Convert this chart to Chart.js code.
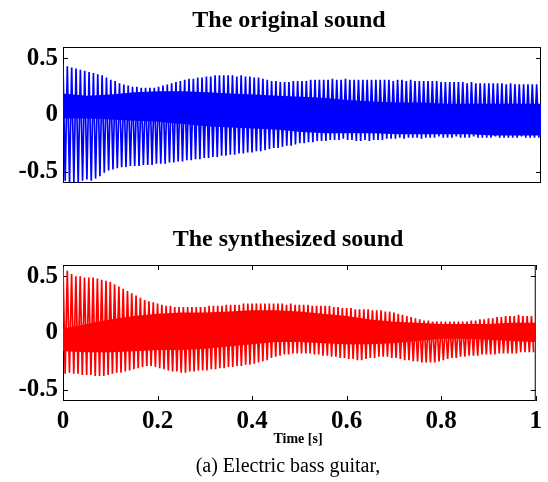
<!DOCTYPE html>
<html>
<head>
<meta charset="utf-8">
<script src="https://cdn.jsdelivr.net/npm/chart.js@4/dist/chart.umd.min.js"></script>
<style>
  html, body { margin: 0; padding: 0; background: #fff; }
  #wrap { position: relative; width: 548px; height: 482px; overflow: hidden; font-family: "Liberation Serif", "Times New Roman", serif; }
  #wrap canvas { position: absolute; left: 0; top: 0; }
  .txt { position: absolute; white-space: nowrap; transform: translateX(-50%); color: #000; }
  .ttl { font-size: 24px; line-height: 24px; font-weight: bold; }
  .axt { font-size: 14px; line-height: 14px; font-weight: bold; }
  .cap { font-size: 20px; line-height: 20px; }
</style>
</head>
<body>
<div id="wrap">
  <canvas id="orig" width="548" height="482"></canvas>
  <canvas id="synth" width="548" height="482"></canvas>
  <div class="txt ttl" style="left:289px; top:7px;">The original sound</div>
  <div class="txt ttl" style="left:288px; top:226px;">The synthesized sound</div>
  <div class="txt axt" style="left:298px; top:432px;">Time [s]</div>
  <div class="txt cap" style="left:288px; top:455px;">(a) Electric bass guitar,</div>
</div>
<script>
// Fundamental of the note: one peak and one trough per period
const F0 = 110;

// Per-period maxima / minima of the recorded waveform
const originalPeaks = [
  0.45, 0.43, 0.42, 0.41, 0.40, 0.39, 0.38, 0.37, 0.36,
  0.35, 0.33, 0.31, 0.30, 0.28, 0.27, 0.26,
  0.25, 0.25, 0.24, 0.24, 0.24, 0.24, 0.25,
  0.26, 0.27, 0.28, 0.29, 0.30, 0.31, 0.32, 0.32, 0.33, 0.33, 0.34,
  0.34, 0.35, 0.35, 0.35, 0.35, 0.35, 0.34, 0.35, 0.34, 0.34, 0.33, 0.33, 0.32,
  0.31, 0.30, 0.30, 0.29, 0.29, 0.29, 0.30, 0.30, 0.30, 0.30, 0.31, 0.31, 0.31,
  0.31, 0.31, 0.32, 0.31, 0.31, 0.32, 0.31, 0.31, 0.31, 0.31, 0.31, 0.31, 0.31,
  0.31, 0.31, 0.31, 0.30, 0.31, 0.31, 0.30, 0.31, 0.30, 0.30, 0.30, 0.30, 0.30, 0.30, 0.29,
  0.29, 0.29, 0.29, 0.29, 0.29, 0.28, 0.29, 0.28, 0.28, 0.28, 0.28, 0.28, 0.28, 0.28, 0.27, 0.28, 0.27, 0.27, 0.27, 0.27, 0.27, 0.27
];
const originalTroughs = [
  -0.58, -0.60, -0.59, -0.60, -0.58, -0.57, -0.58, -0.56, -0.54,
  -0.51, -0.49, -0.48, -0.47, -0.46, -0.46, -0.45,
  -0.45, -0.45, -0.44, -0.44, -0.44, -0.43, -0.43,
  -0.43, -0.42, -0.42, -0.41, -0.41, -0.40, -0.40, -0.39, -0.39, -0.38, -0.38,
  -0.37, -0.37, -0.36, -0.36, -0.35, -0.35, -0.34, -0.34, -0.33, -0.33, -0.32, -0.32, -0.31,
  -0.30, -0.29, -0.29, -0.28, -0.27, -0.27, -0.26, -0.25, -0.25, -0.24, -0.24, -0.23, -0.23,
  -0.23, -0.22, -0.22, -0.22, -0.21, -0.22, -0.22, -0.23, -0.23, -0.22, -0.23, -0.22, -0.22,
  -0.22, -0.21, -0.21, -0.21, -0.20, -0.21, -0.20, -0.20, -0.20, -0.21, -0.20, -0.20, -0.20, -0.19, -0.20,
  -0.20, -0.20, -0.19, -0.20, -0.20, -0.20, -0.19, -0.20, -0.20, -0.20, -0.20, -0.19, -0.20, -0.20, -0.20, -0.20, -0.20, -0.19, -0.20, -0.20, -0.20, -0.20
];

// Per-period maxima / minima of the synthesized waveform
const synthPeaks = [
  0.58, 0.55, 0.52,
  0.50, 0.50, 0.49, 0.49, 0.49, 0.48,
  0.47, 0.46, 0.45,
  0.43, 0.41, 0.39, 0.37, 0.35,
  0.33, 0.31, 0.29, 0.28, 0.27,
  0.26, 0.25, 0.24, 0.24, 0.23, 0.23, 0.23, 0.23, 0.23, 0.23,
  0.23, 0.23, 0.24, 0.24, 0.24, 0.24, 0.25, 0.25, 0.25, 0.25, 0.26, 0.26, 0.26, 0.26, 0.26, 0.26, 0.26, 0.26,
  0.26, 0.26, 0.25, 0.26, 0.25, 0.25, 0.25, 0.25, 0.24, 0.24, 0.24, 0.24, 0.24, 0.23, 0.23,
  0.22, 0.22, 0.22, 0.21, 0.21, 0.21, 0.21, 0.20, 0.20, 0.20, 0.19,
  0.19, 0.18, 0.17, 0.16, 0.15, 0.14, 0.13, 0.12,
  0.11, 0.11, 0.10, 0.10, 0.10, 0.10, 0.10, 0.10, 0.10, 0.10,
  0.10, 0.11, 0.11, 0.12, 0.12, 0.13, 0.13, 0.14, 0.14,
  0.15, 0.15, 0.15, 0.16, 0.15, 0.15, 0.15
];
const synthTroughs = [
  -0.36, -0.35, -0.36, -0.36, -0.37, -0.37, -0.37, -0.38, -0.38,
  -0.38, -0.37, -0.36, -0.35, -0.35, -0.34, -0.33,
  -0.32, -0.31, -0.30, -0.29, -0.29, -0.30, -0.31,
  -0.32, -0.33, -0.34, -0.34, -0.35, -0.35, -0.34, -0.34, -0.33, -0.33, -0.33,
  -0.32, -0.32, -0.31, -0.31, -0.30, -0.30, -0.29, -0.29, -0.28, -0.28, -0.27, -0.26, -0.25,
  -0.24, -0.22, -0.21, -0.20, -0.19, -0.19, -0.18, -0.18, -0.18, -0.18, -0.18, -0.19, -0.19,
  -0.20, -0.20, -0.21, -0.21, -0.22, -0.22, -0.23, -0.23, -0.24, -0.24, -0.23, -0.22, -0.22,
  -0.21, -0.21, -0.21, -0.22, -0.22, -0.23, -0.24, -0.24, -0.25, -0.25, -0.26, -0.26, -0.26, -0.26, -0.25,
  -0.24, -0.23, -0.22, -0.22, -0.21, -0.21, -0.20, -0.20, -0.20, -0.19, -0.19, -0.19, -0.19, -0.18, -0.18, -0.18, -0.18, -0.18, -0.17, -0.17, -0.17, -0.17
];

// Dense inner part of each waveform (upper and lower edge), sampled every 50 ms
const bandTimes = [0, 0.05, 0.1, 0.15, 0.2, 0.25, 0.3, 0.35, 0.4, 0.45, 0.5, 0.55, 0.6, 0.65, 0.7, 0.75, 0.8, 0.85, 0.9, 0.95, 1];
const originalBandTop    = [0.19, 0.17, 0.18, 0.20, 0.21, 0.21, 0.20, 0.19, 0.18, 0.17, 0.16, 0.15, 0.13, 0.12, 0.11, 0.11, 0.10, 0.10, 0.10, 0.10, 0.10];
const originalBandBottom = [-0.03, -0.03, -0.04, -0.05, -0.06, -0.08, -0.10, -0.11, -0.12, -0.13, -0.15, -0.16, -0.16, -0.16, -0.17, -0.17, -0.17, -0.17, -0.18, -0.18, -0.18];
const synthBandTop       = [0.04, 0.08, 0.12, 0.15, 0.17, 0.18, 0.18, 0.19, 0.20, 0.20, 0.19, 0.17, 0.15, 0.12, 0.10, 0.09, 0.08, 0.08, 0.08, 0.09, 0.09];
const synthBandBottom    = [-0.16, -0.17, -0.17, -0.16, -0.15, -0.15, -0.14, -0.12, -0.10, -0.08, -0.08, -0.09, -0.10, -0.10, -0.09, -0.07, -0.05, -0.05, -0.06, -0.07, -0.08];

// Axis ticks
const yTicks = [-0.5, 0, 0.5];
const yTickLabels = ['-0.5', '0', '0.5'];
const xTicks = [0, 0.2, 0.4, 0.6, 0.8, 1];
const xTickLabels = ['0', '0.2', '0.4', '0.6', '0.8', '1'];

const FONT = '"Liberation Serif", "Times New Roman", serif';

function wavePoints(peaks, troughs) {
  const pts = [];
  for (let k = 0; k < peaks.length; k++) {
    pts.push({ x: k / F0, y: peaks[k] });
    pts.push({ x: (k + 0.5) / F0, y: troughs[k] });
  }
  return pts;
}
function bandPoints(values) {
  return bandTimes.map((t, i) => ({ x: t, y: values[i] }));
}

// Box around the axes with short inward tick marks
const boxPlugin = {
  id: 'box',
  beforeDatasetsDraw(chart, args, opts) {
    const { ctx, chartArea: a, scales } = chart;
    ctx.save();
    ctx.strokeStyle = '#000';
    ctx.lineWidth = 1;
    ctx.strokeRect(a.left + 0.5, a.top + 0.5, a.right - a.left - 1, a.bottom - a.top - 1);
    ctx.beginPath();
    yTicks.forEach(v => {
      const y = Math.round(scales.y.getPixelForValue(v)) + 0.5;
      ctx.moveTo(a.left, y); ctx.lineTo(a.left + 5, y);
      ctx.moveTo(a.right - 5, y); ctx.lineTo(a.right, y);
    });
    if (opts.xTicks) {
      xTicks.forEach(v => {
        const x = Math.round(scales.x.getPixelForValue(v)) + 0.5;
        ctx.moveTo(x, a.bottom); ctx.lineTo(x, a.bottom - 5);
        ctx.moveTo(x, a.top); ctx.lineTo(x, a.top + 5);
      });
    }
    ctx.stroke();
    ctx.restore();
  }
};

function makeChart(id, color, peaks, troughs, bandTop, bandBottom, pad, showX) {
  return new Chart(document.getElementById(id), {
    type: 'line',
    data: {
      datasets: [
        { data: bandPoints(bandBottom), borderWidth: 0, pointRadius: 0, fill: false, borderColor: color },
        { data: bandPoints(bandTop), borderWidth: 0, pointRadius: 0, fill: '-1', backgroundColor: color, borderColor: color },
        { data: wavePoints(peaks, troughs), borderColor: color, borderWidth: 1.7, pointRadius: 0, fill: false, tension: 0 }
      ]
    },
    options: {
      responsive: false,
      animation: false,
      devicePixelRatio: 1,
      events: [],
      layout: { padding: pad },
      plugins: { legend: { display: false }, title: { display: false }, tooltip: { enabled: false }, box: { xTicks: showX } },
      scales: {
        x: {
          type: 'linear', min: 0, max: 1,
          display: showX,
          grid: { display: false, drawTicks: false },
          border: { display: false },
          afterBuildTicks: s => { s.ticks = xTicks.map(v => ({ value: v })); },
          afterFit: s => { s.height = showX ? 30 : 0; },
          ticks: {
            padding: 6, color: '#000', maxRotation: 0, autoSkip: false,
            font: { family: FONT, size: 25, weight: 'bold' },
            callback: (v, i) => xTickLabels[i]
          }
        },
        y: {
          type: 'linear', min: -0.6, max: 0.6,
          grid: { display: false, drawTicks: false },
          border: { display: false },
          afterBuildTicks: s => { s.ticks = yTicks.map(v => ({ value: v })); },
          afterFit: s => { s.width = 63; },
          ticks: {
            padding: 5, color: '#000',
            font: { family: FONT, size: 25, weight: 'bold' },
            callback: (v, i) => yTickLabels[i]
          }
        }
      }
    },
    plugins: [boxPlugin]
  });
}

makeChart('orig', '#0000ff', originalPeaks, originalTroughs, originalBandTop, originalBandBottom,
  { top: 47, bottom: 482 - 183, left: 0, right: 7 }, false);
makeChart('synth', '#ff0000', synthPeaks, synthTroughs, synthBandTop, synthBandBottom,
  { top: 265, bottom: 482 - 401 - 30, left: 0, right: 7 }, true);
</script>
</body>
</html>
